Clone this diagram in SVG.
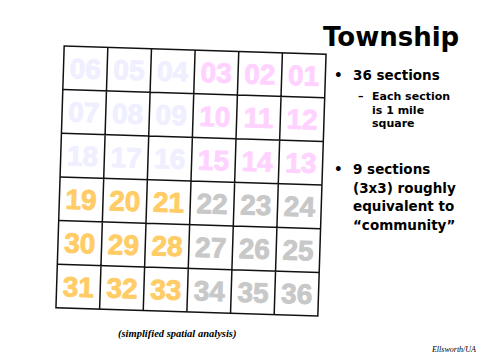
<svg xmlns="http://www.w3.org/2000/svg" width="483" height="356" viewBox="0 0 483 356">
<style>
.n{font-family:"Liberation Sans",Arial,sans-serif;font-weight:bold;font-size:28px;text-anchor:middle;stroke-width:0.9;stroke-linejoin:round}
.lav{fill:#efefff;stroke:#efefff}.pink{fill:#ffd2ff;stroke:#ffd2ff}.gold{fill:#ffcc66;stroke:#ffcc66}.gray{fill:#c8c8c8;stroke:#c8c8c8}
.g{stroke:#111;stroke-width:1.5;fill:none}
.t{font-family:"DejaVu Sans",Verdana,sans-serif;font-weight:bold;fill:#000}
.f{font-family:"Liberation Serif","Times New Roman",serif;font-style:italic;fill:#000}
</style>
<rect width="483" height="356" fill="#fff"/>
<g id="township-grid" transform="rotate(1.8 191 181)">
<g id="nw-block" class="n lav">
<text x="81.8" y="81.8">06</text><text x="125.5" y="81.8">05</text><text x="169.2" y="81.8">04</text>
<text x="81.8" y="125.5">07</text><text x="125.5" y="125.5">08</text><text x="169.2" y="125.5">09</text>
<text x="81.8" y="169.2">18</text><text x="125.5" y="169.2">17</text><text x="169.2" y="169.2">16</text>
</g>
<g id="ne-block" class="n pink">
<text x="212.8" y="81.8">03</text><text x="256.5" y="81.8">02</text><text x="300.2" y="81.8">01</text>
<text x="212.8" y="125.5">10</text><text x="256.5" y="125.5">11</text><text x="300.2" y="125.5">12</text>
<text x="212.8" y="169.2">15</text><text x="256.5" y="169.2">14</text><text x="300.2" y="169.2">13</text>
</g>
<g id="sw-block" class="n gold">
<text x="81.8" y="212.8">19</text><text x="125.5" y="212.8">20</text><text x="169.2" y="212.8">21</text>
<text x="81.8" y="256.5">30</text><text x="125.5" y="256.5">29</text><text x="169.2" y="256.5">28</text>
<text x="81.8" y="300.2">31</text><text x="125.5" y="300.2">32</text><text x="169.2" y="300.2">33</text>
</g>
<g id="se-block" class="n gray">
<text x="212.8" y="212.8">22</text><text x="256.5" y="212.8">23</text><text x="300.2" y="212.8">24</text>
<text x="212.8" y="256.5">27</text><text x="256.5" y="256.5">26</text><text x="300.2" y="256.5">25</text>
<text x="212.8" y="300.2">34</text><text x="256.5" y="300.2">35</text><text x="300.2" y="300.2">36</text>
</g>
<g id="connectors" class="g">
<rect x="60" y="50" width="262" height="262"/>
<path d="M103.67 50V312M147.33 50V312M191 50V312M234.67 50V312M278.33 50V312M60 93.67H322M60 137.33H322M60 181H322M60 224.67H322M60 268.33H322"/>
</g>
</g>
<g id="title"><text class="t" x="323" y="46" font-size="26">Township</text></g>
<g id="bullets">
<text class="t" x="334" y="80" font-size="13.5">•</text>
<text class="t" x="353" y="80" font-size="13.5">36 sections</text>
<text class="t" x="358" y="100" font-size="11">–</text>
<text class="t" font-size="11"><tspan x="372" y="100">Each section</tspan><tspan x="372" y="114">is 1 mile</tspan><tspan x="372" y="127">square</tspan></text>
<text class="t" x="334" y="174" font-size="13.5">•</text>
<text class="t" font-size="13.5"><tspan x="353" y="174">9 sections</tspan><tspan x="353" y="192.5">(3x3) roughly</tspan><tspan x="353" y="211">equivalent to</tspan><tspan x="353" y="229.5">“community”</tspan></text>
</g>
<g id="footer">
<text class="f" x="118" y="337" font-size="10.5" font-weight="bold">(simplified spatial analysis)</text>
<text class="f" x="476" y="352" font-size="8" text-anchor="end">Ellsworth/UA</text>
</g>
</svg>
